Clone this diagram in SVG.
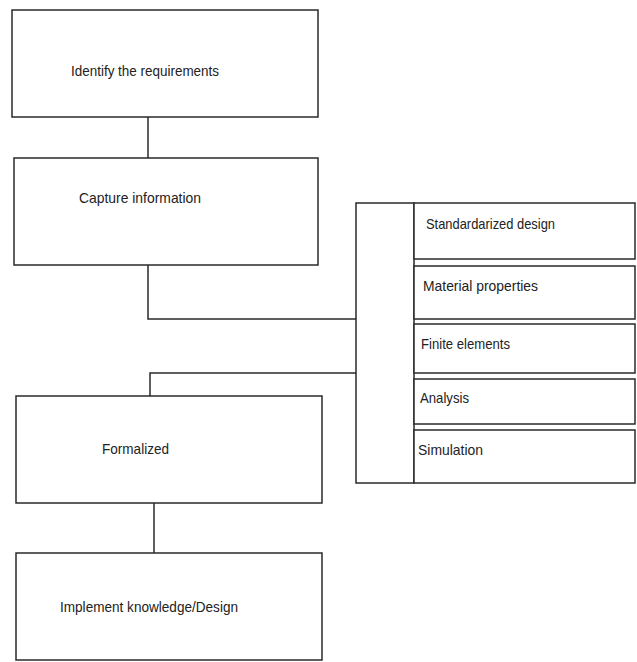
<svg xmlns="http://www.w3.org/2000/svg" width="637" height="662" viewBox="0 0 637 662">
<style>
.box{fill:#fff;stroke:#2a2a2a;stroke-width:1.5}
.ln{fill:none;stroke:#2a2a2a;stroke-width:1.5}
text{font-family:"Liberation Sans",Arial,sans-serif;font-size:15px;fill:#222}
</style>
<rect width="637" height="662" fill="#fff"/>
<g id="connectors">
<path class="ln" d="M148,117 V158"/>
<path class="ln" d="M148,265 V319 H356"/>
<path class="ln" d="M356,373 H150 V396"/>
<path class="ln" d="M154,503 V553"/>
</g>
<g id="n1"><rect class="box" x="12" y="10" width="306" height="107"/><text x="71" y="76" textLength="148" lengthAdjust="spacingAndGlyphs">Identify the requirements</text></g>
<g id="n2"><rect class="box" x="14" y="158" width="304" height="107"/><text x="79" y="203" textLength="122" lengthAdjust="spacingAndGlyphs">Capture information</text></g>
<g id="n3"><rect class="box" x="16" y="396" width="306" height="107"/><text x="102" y="454" textLength="67" lengthAdjust="spacingAndGlyphs">Formalized</text></g>
<g id="n4"><rect class="box" x="16" y="553" width="306" height="107"/><text x="60" y="612" textLength="178" lengthAdjust="spacingAndGlyphs">Implement knowledge/Design</text></g>
<g id="group"><rect class="box" x="356" y="203" width="58" height="280"/></g>
<g id="r1"><rect class="box" x="414" y="203" width="221" height="56"/><text x="426" y="229" textLength="129" lengthAdjust="spacingAndGlyphs">Standardarized design</text></g>
<g id="r2"><rect class="box" x="414" y="266" width="221" height="53"/><text x="423" y="291" textLength="115" lengthAdjust="spacingAndGlyphs">Material properties</text></g>
<g id="r3"><rect class="box" x="414" y="324" width="221" height="49"/><text x="421" y="349" textLength="89" lengthAdjust="spacingAndGlyphs">Finite elements</text></g>
<g id="r4"><rect class="box" x="414" y="379" width="221" height="45"/><text x="420" y="403" textLength="49" lengthAdjust="spacingAndGlyphs">Analysis</text></g>
<g id="r5"><rect class="box" x="414" y="430" width="221" height="53"/><text x="418" y="455" textLength="65" lengthAdjust="spacingAndGlyphs">Simulation</text></g>
</svg>
